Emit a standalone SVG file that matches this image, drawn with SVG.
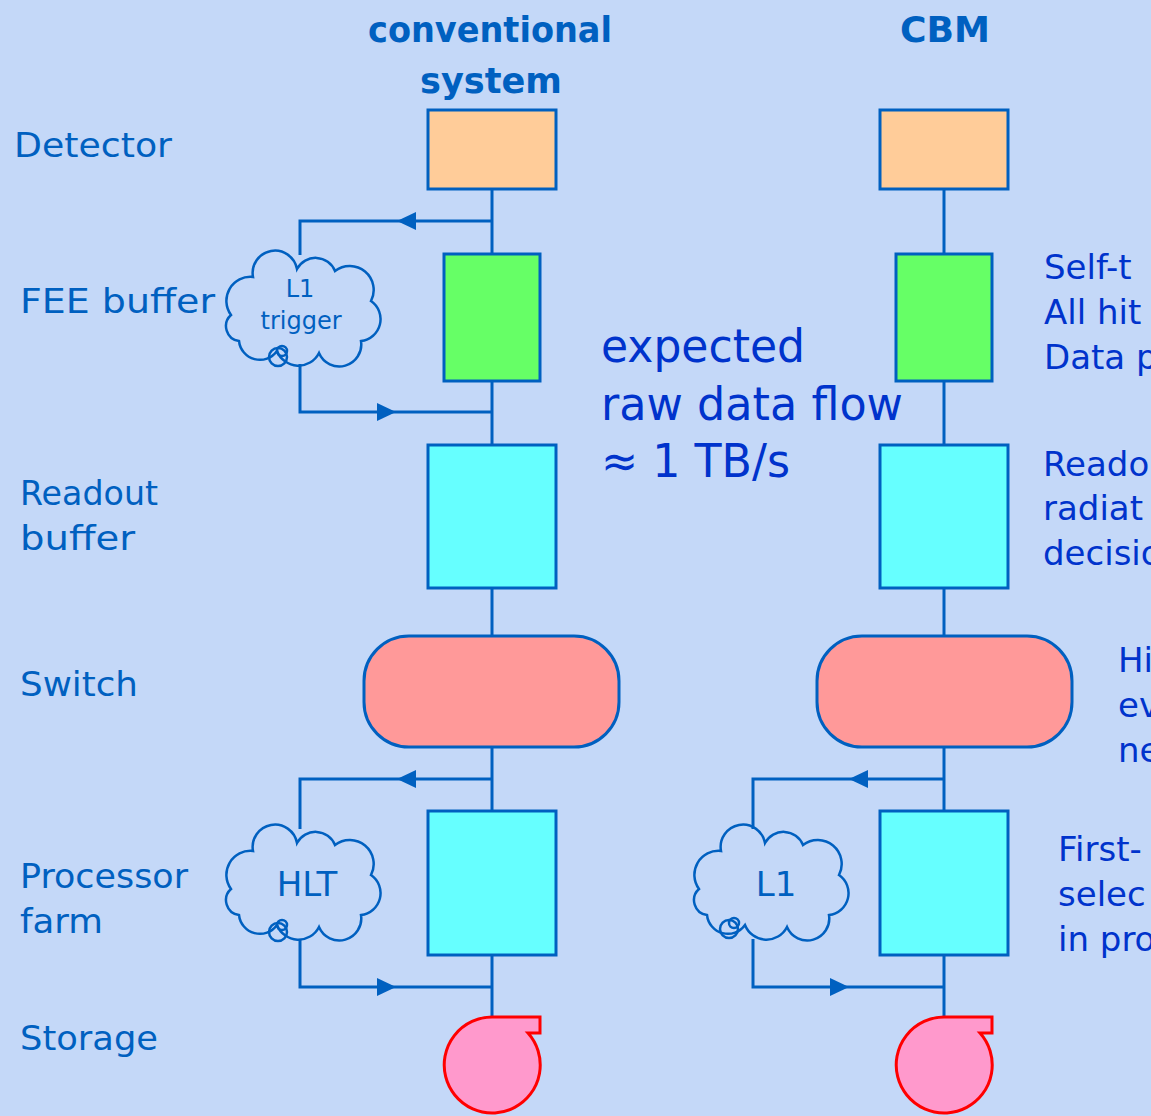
<svg xmlns="http://www.w3.org/2000/svg" width="1151" height="1116" viewBox="0 0 1151 1116">
<style>
.lbl{font-family:"DejaVu Sans",sans-serif;font-size:34px;fill:#0060C0}
.hdr{font-family:"DejaVu Sans",sans-serif;font-size:36px;font-weight:bold;fill:#0060C0}
.big{font-family:"DejaVu Sans",sans-serif;font-size:46px;fill:#0033CC}
.note{font-family:"DejaVu Sans",sans-serif;font-size:34px;fill:#0033CC}
.cl{font-family:"DejaVu Sans",sans-serif;fill:#0060C0;text-anchor:middle}
.box{stroke:#0060C0;stroke-width:3}
.det{fill:#FFCC99}
.fee{fill:#66FF66}
.cyan{fill:#66FFFF}
.sw{fill:#FF9999}
.sto{fill:#FF99CC;stroke:#FF0000;stroke-width:3}
.ln{fill:none;stroke:#0060C0;stroke-width:3}
.cloud{fill:none;stroke:#0060C0;stroke-width:2.5}
</style>
<defs>
<marker id="arr" markerUnits="userSpaceOnUse" markerWidth="22" markerHeight="22" refX="19" refY="10" orient="auto">
<path d="M0,1 L19,10 L0,19 Z" fill="#0060C0"/>
</marker>
<path id="cloudShape" d="M-70,4 A24,24 0 0 1 -48,-34 A22,22 0 0 1 -4,-42 A21,21 0 0 1 34,-40 A24,24 0 0 1 70,-10 A22,22 0 0 1 60,30 A22,22 0 0 1 18,42 A23,23 0 0 1 -24,40 A21,21 0 0 1 -62,30 A15,15 0 0 1 -70,4 Z"/>
<path id="storageShape" d="M0,-48 H48 V-32 H36 A48,48 0 1 1 0,-48 Z"/>
</defs>
<rect x="0" y="0" width="1151" height="1116" fill="#C4D8F8"/>

<g id="headers">
<text class="hdr" x="490" y="42" text-anchor="middle" textLength="244" lengthAdjust="spacingAndGlyphs">conventional</text>
<text class="hdr" x="491" y="93" text-anchor="middle" textLength="142" lengthAdjust="spacingAndGlyphs">system</text>
<text class="hdr" x="945" y="42" text-anchor="middle" textLength="90" lengthAdjust="spacingAndGlyphs">CBM</text>
</g>

<g id="row-labels">
<text class="lbl" x="14" y="157" textLength="158" lengthAdjust="spacingAndGlyphs">Detector</text>
<text class="lbl" x="20" y="313" textLength="195" lengthAdjust="spacingAndGlyphs">FEE buffer</text>
<text class="lbl" x="20" y="505" textLength="138" lengthAdjust="spacingAndGlyphs">Readout</text>
<text class="lbl" x="20" y="550" textLength="115" lengthAdjust="spacingAndGlyphs">buffer</text>
<text class="lbl" x="20" y="696" textLength="118" lengthAdjust="spacingAndGlyphs">Switch</text>
<text class="lbl" x="20" y="888" textLength="168" lengthAdjust="spacingAndGlyphs">Processor</text>
<text class="lbl" x="20" y="933" textLength="83" lengthAdjust="spacingAndGlyphs">farm</text>
<text class="lbl" x="20" y="1050" textLength="138" lengthAdjust="spacingAndGlyphs">Storage</text>
</g>

<g id="connectors">
<path class="ln" d="M492,189 V254 M492,381 V445 M492,588 V636 M492,747 V811 M492,955 V1017"/>
<path class="ln" d="M944,189 V254 M944,381 V445 M944,588 V636 M944,747 V811 M944,955 V1017"/>
<path class="ln" d="M492,221 H397" marker-end="url(#arr)"/>
<path class="ln" d="M397,221 H300 V255"/>
<path class="ln" d="M300,364 V412 H396" marker-end="url(#arr)"/>
<path class="ln" d="M396,412 H492"/>
<path class="ln" d="M492,779 H397" marker-end="url(#arr)"/>
<path class="ln" d="M397,779 H300 V829"/>
<path class="ln" d="M300,939 V987 H396" marker-end="url(#arr)"/>
<path class="ln" d="M396,987 H492"/>
<path class="ln" d="M944,779 H849" marker-end="url(#arr)"/>
<path class="ln" d="M849,779 H753 V829"/>
<path class="ln" d="M753,939 V987 H849" marker-end="url(#arr)"/>
<path class="ln" d="M849,987 H944"/>
</g>

<g id="conv-detector"><rect class="box det" x="428" y="110" width="128" height="79"/></g>
<g id="conv-fee"><rect class="box fee" x="444" y="254" width="96" height="127"/></g>
<g id="conv-readout"><rect class="box cyan" x="428" y="445" width="128" height="143"/></g>
<g id="conv-switch"><rect class="box sw" x="364" y="636" width="255" height="111" rx="45" ry="45"/></g>
<g id="conv-processor"><rect class="box cyan" x="428" y="811" width="128" height="144"/></g>
<g id="conv-storage"><use href="#storageShape" class="sto" x="492" y="1065"/></g>

<g id="cbm-detector"><rect class="box det" x="880" y="110" width="128" height="79"/></g>
<g id="cbm-fee"><rect class="box fee" x="896" y="254" width="96" height="127"/></g>
<g id="cbm-readout"><rect class="box cyan" x="880" y="445" width="128" height="143"/></g>
<g id="cbm-switch"><rect class="box sw" x="817" y="636" width="255" height="111" rx="45" ry="45"/></g>
<g id="cbm-processor"><rect class="box cyan" x="880" y="811" width="128" height="144"/></g>
<g id="cbm-storage"><use href="#storageShape" class="sto" x="944" y="1065"/></g>

<g id="cloud-l1-trigger">
<use href="#cloudShape" class="cloud" x="301" y="311"/>
<circle class="cloud" cx="278" cy="357" r="9"/>
<circle class="cloud" cx="282" cy="351" r="5"/>
<text class="cl" x="300" y="297" font-size="24">L1</text>
<text class="cl" x="301" y="329" font-size="24">trigger</text>
</g>
<g id="cloud-hlt">
<use href="#cloudShape" class="cloud" x="301" y="885"/>
<circle class="cloud" cx="278" cy="932" r="9"/>
<circle class="cloud" cx="282" cy="925" r="5"/>
<text class="cl" x="307" y="896" font-size="34">HLT</text>
</g>
<g id="cloud-cbm-l1">
<use href="#cloudShape" class="cloud" x="769" y="885"/>
<circle class="cloud" cx="729" cy="929" r="9"/>
<circle class="cloud" cx="734" cy="923" r="5"/>
<text class="cl" x="776" y="896" font-size="34">L1</text>
</g>

<g id="data-flow-note">
<text class="big" x="601" y="362" textLength="204" lengthAdjust="spacingAndGlyphs">expected</text>
<text class="big" x="601" y="420" textLength="302" lengthAdjust="spacingAndGlyphs">raw data flow</text>
<text class="big" x="601" y="477" textLength="189" lengthAdjust="spacingAndGlyphs">≈ 1 TB/s</text>
</g>

<g id="cbm-notes">
<text class="note" x="1044" y="279">Self-t</text>
<text class="note" x="1044" y="324">All hit</text>
<text class="note" x="1044" y="369">Data p</text>
<text class="note" x="1043" y="476">Readou</text>
<text class="note" x="1043" y="520">radiat</text>
<text class="note" x="1043" y="565">decisio</text>
<text class="note" x="1118" y="672">Hi</text>
<text class="note" x="1118" y="717">ev</text>
<text class="note" x="1118" y="762">ne</text>
<text class="note" x="1058" y="861">First-</text>
<text class="note" x="1058" y="906">selec</text>
<text class="note" x="1058" y="951">in pro</text>
</g>
</svg>
